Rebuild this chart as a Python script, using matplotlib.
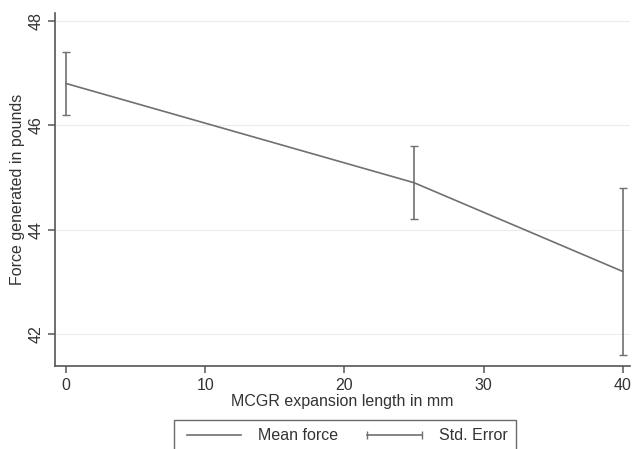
import matplotlib
matplotlib.use("Agg")
import matplotlib.pyplot as plt
from matplotlib.lines import Line2D

plt.rcParams['font.family'] = ['Liberation Sans', 'DejaVu Sans']

# expansion length (mm), mean force and std. error (pounds)
length_mm = [0, 25, 40]
mean_force = [46.8, 44.9, 43.2]
std_err = [0.6, 0.7, 1.6]

grey = '#707070'
txt = '#333333'

fig = plt.figure(figsize=(6.35, 4.49), dpi=100)
ax = fig.add_axes([0.0866, 0.185, 0.905, 0.786])

ax.plot(length_mm, mean_force, color=grey, lw=1.2, zorder=3)
ax.errorbar(length_mm, mean_force, yerr=std_err, fmt='none', ecolor=grey,
            elinewidth=1.2, capsize=3, capthick=1.0, zorder=3)

ax.set_xlim(-0.8, 40.5)
ax.set_ylim(41.39, 48.15)
ax.set_xticks([0, 10, 20, 30, 40])
ax.set_yticks([42, 44, 46, 48])
ax.grid(axis='y', color='#ececec', lw=0.8)
ax.set_axisbelow(True)

for s in ['top', 'right']:
    ax.spines[s].set_visible(False)
for s in ['left', 'bottom']:
    ax.spines[s].set_color('#555555')
    ax.spines[s].set_linewidth(1.2)

ax.tick_params(colors='#555555', labelcolor=txt, labelsize=11.5, length=5, width=1.1)
plt.setp(ax.get_yticklabels(), rotation=90, va='center')

ax.set_xlabel('MCGR expansion length in mm', fontsize=11.5, color=txt, labelpad=1)
ax.set_ylabel('Force generated in pounds', fontsize=11.5, color=txt, labelpad=2)

handles = [Line2D([], [], color=grey, lw=1.2),
           Line2D([], [], color=grey, lw=1.2, marker='|', markersize=6)]
leg = fig.legend(handles, ['Mean force', 'Std. Error'], loc='upper center',
                 bbox_to_anchor=(0.543, 0.082), ncol=2, numpoints=2,
                 fontsize=11.5, frameon=True, fancybox=False, handlelength=4.0,
                 handletextpad=0.8, columnspacing=1.5, borderpad=0.5)
leg.get_frame().set_edgecolor('#444444')
leg.get_frame().set_linewidth(1.0)
for t in leg.get_texts():
    t.set_color(txt)

fig.savefig('out.png', dpi=100, facecolor='white')
